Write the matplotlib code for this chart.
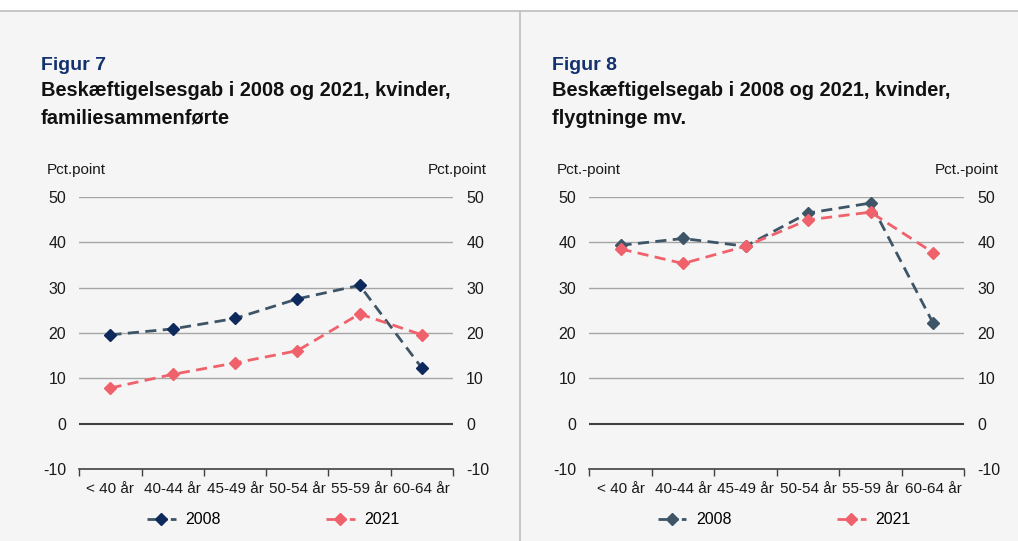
import matplotlib
matplotlib.use("Agg")
import matplotlib.pyplot as plt
from matplotlib.lines import Line2D
from matplotlib.patches import Rectangle

plt.rcParams['font.family'] = ['Liberation Sans', 'DejaVu Sans']
plt.rcParams['axes.unicode_minus'] = False

categories = ["< 40 år", "40-44 år", "45-49 år", "50-54 år", "55-59 år", "60-64 år"]
fig7_2008 = [19.6, 20.9, 23.2, 27.5, 30.5, 12.3]
fig7_2021 = [7.9, 10.9, 13.4, 16.1, 24.2, 19.6]
fig8_2008 = [39.3, 40.8, 39.1, 46.4, 48.6, 22.2]
fig8_2021 = [38.5, 35.3, 39.1, 44.9, 46.6, 37.7]
yticks = [-10, 0, 10, 20, 30, 40, 50]

W, H = 1018, 541
fig = plt.figure(figsize=(W / 100, H / 100), dpi=100)
fig.patch.set_facecolor('white')

# background panel
fig.add_artist(Rectangle((0, 0), 1, (H - 11) / H, transform=fig.transFigure,
                         facecolor='#f5f5f5', edgecolor='none', zorder=-10))
fig.add_artist(Line2D([0, 1], [(H - 11) / H] * 2, transform=fig.transFigure,
                      color='#bdbdbd', lw=1.2))
fig.add_artist(Line2D([520 / W] * 2, [0, (H - 11) / H], transform=fig.transFigure,
                      color='#bdbdbd', lw=1.2))

c2008_line = '#3d5566'
c2021 = '#f0626b'
title_blue = '#13316e'
dash = (0, (4, 2.3))


def px(x0, y0, x1, y1):
    return [x0 / W, 1 - y1 / H, (x1 - x0) / W, (y1 - y0) / H]


def panel(x0, x1, fignum, title, unit, d2008, d2021, mk2008, tx):
    ax = fig.add_axes(px(x0, 196.7, x1, 469.3))
    ax.set_facecolor('none')
    xs = list(range(len(categories)))
    ax.set_xlim(-0.5, len(categories) - 0.5)
    ax.set_ylim(-10, 50)
    for v in yticks[2:]:
        ax.axhline(v, color='#a6a6a6', lw=1.0, zorder=1)
    ax.axhline(0, color='#404040', lw=1.5, zorder=1)
    ax.plot(xs, d2008, ls=dash, color=c2008_line, lw=2.0, marker='D',
            ms=6.5, mfc=mk2008, mec=mk2008, zorder=3, label='2008')
    ax.plot(xs, d2021, ls=dash, color=c2021, lw=2.0, marker='D',
            ms=6.5, mfc=c2021, mec=c2021, zorder=3, label='2021')
    for s in ['top', 'left', 'right']:
        ax.spines[s].set_visible(False)
    ax.spines['bottom'].set_color('#404040')
    ax.spines['bottom'].set_linewidth(1.2)
    ax.set_yticks(yticks)
    ax.tick_params(axis='y', left=False, right=False, labelleft=True, labelright=True,
                   labelsize=11.5, colors='#1a1a1a', length=0, pad=9.5)
    ax.set_xticks(xs)
    ax.set_xticklabels(categories)
    ax.set_xticks([i - 0.5 for i in range(len(categories) + 1)], minor=True)
    ax.tick_params(axis='x', which='major', length=0, labelsize=11, colors='#1a1a1a', pad=9)
    ax.tick_params(axis='x', which='minor', length=5, color='#404040', width=1.0)

    fig.text(tx / W, 1 - 65 / H, fignum, fontsize=14, fontweight='bold', color=title_blue,
             va='center', ha='left')
    fig.text(tx / W, 1 - 104.5 / H, title, fontsize=14.4, fontweight='bold', color='#111111',
             va='center', ha='left', linespacing=1.55)
    fig.text((x0 - 33) / W, 1 - 170 / H, unit, fontsize=11, color='#1a1a1a',
             va='center', ha='left')
    fig.text((x1 + 34) / W, 1 - 170 / H, unit, fontsize=11, color='#1a1a1a',
             va='center', ha='right')

    handles = [Line2D([], [], ls=(0, (3, 1.2)), color=c2008_line, lw=2.0, marker='D', ms=6.5,
                      mfc=mk2008, mec=mk2008),
               Line2D([], [], ls=(0, (3, 1.2)), color=c2021, lw=2.0, marker='D', ms=6.5,
                      mfc=c2021, mec=c2021)]
    fig.legend(handles, ['2008', '2021'], loc='center',
               bbox_to_anchor=((x0 + x1) / 2 / W + 0.007, 1 - 520 / H), ncol=2,
               frameon=False, fontsize=11.5, handlelength=1.8, columnspacing=6.6,
               handletextpad=0.6)
    return ax


panel(79.3, 453, "Figur 7", "Beskæftigelsesgab i 2008 og 2021, kvinder,\nfamiliesammenførte",
      "Pct.point", fig7_2008, fig7_2021, '#0e2a5c', 41)
panel(589.3, 964.3, "Figur 8", "Beskæftigelsegab i 2008 og 2021, kvinder,\nflygtninge mv.",
      "Pct.-point", fig8_2008, fig8_2021, c2008_line, 552)

fig.savefig('out.png', dpi=100, facecolor=fig.get_facecolor())
